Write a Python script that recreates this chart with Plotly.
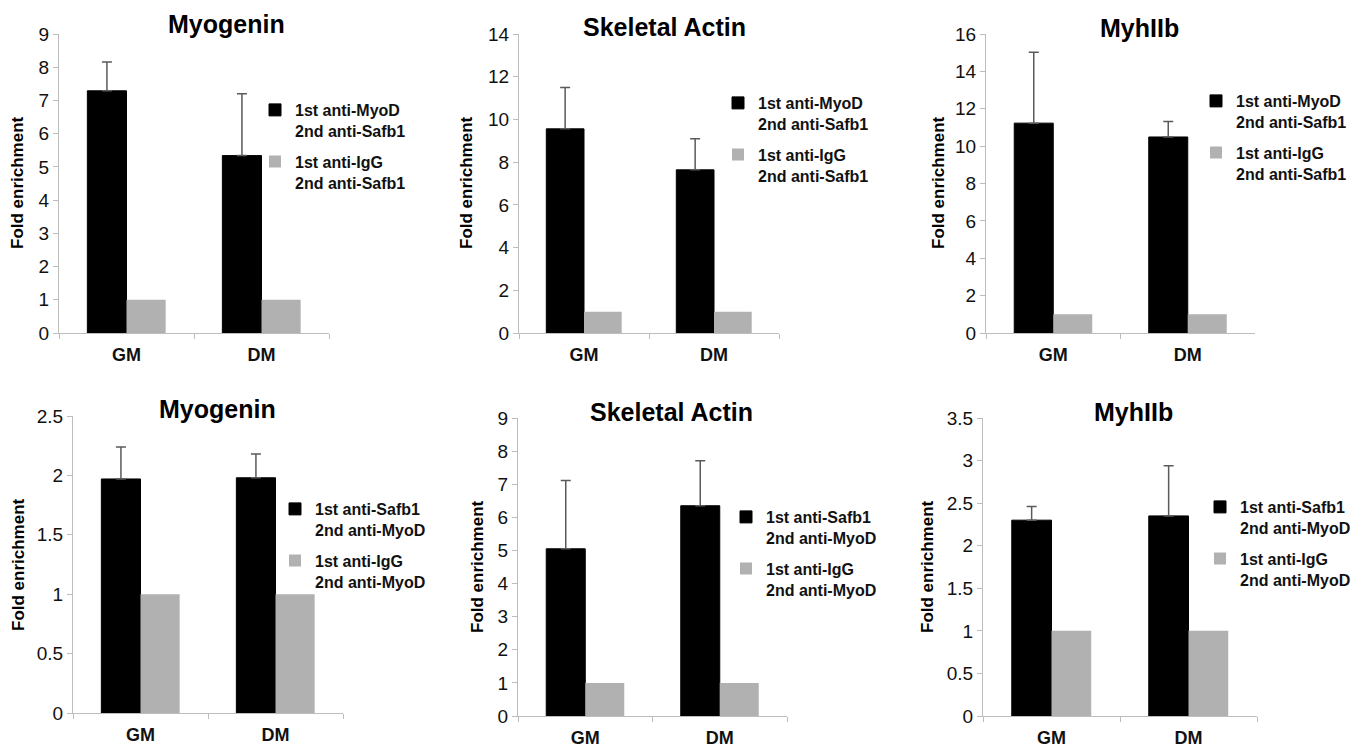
import plotly.graph_objects as go

W, H = 1363, 747

categories = ["GM", "DM"]

titles = ["Myogenin", "Skeletal Actin", "MyhIIb", "Myogenin", "Skeletal Actin", "MyhIIb"]

top_black_name = "1st anti-MyoD<br>2nd anti-Safb1"
top_gray_name = "1st anti-IgG<br>2nd anti-Safb1"
bot_black_name = "1st anti-Safb1<br>2nd anti-MyoD"
bot_gray_name = "1st anti-IgG<br>2nd anti-MyoD"

# values per panel
myogenin_top_black = [7.29, 5.34]
myogenin_top_err = [0.87, 1.86]
myogenin_top_gray = [1.0, 1.0]

actin_top_black = [9.56, 7.64]
actin_top_err = [1.94, 1.45]
actin_top_gray = [1.0, 1.0]

myh_top_black = [11.23, 10.49]
myh_top_err = [3.79, 0.83]
myh_top_gray = [1.0, 1.0]

myogenin_bot_black = [1.97, 1.98]
myogenin_bot_err = [0.27, 0.20]
myogenin_bot_gray = [1.0, 1.0]

actin_bot_black = [5.05, 6.35]
actin_bot_err = [2.06, 1.36]
actin_bot_gray = [1.0, 1.0]

myh_bot_black = [2.30, 2.35]
myh_bot_err = [0.16, 0.59]
myh_bot_gray = [1.0, 1.0]

y_max = [9, 14, 16, 2.5, 9, 3.5]
y_dtick = [1, 2, 2, 0.5, 1, 0.5]

panels = [
    (myogenin_top_black, myogenin_top_err, myogenin_top_gray, top_black_name, top_gray_name),
    (actin_top_black, actin_top_err, actin_top_gray, top_black_name, top_gray_name),
    (myh_top_black, myh_top_err, myh_top_gray, top_black_name, top_gray_name),
    (myogenin_bot_black, myogenin_bot_err, myogenin_bot_gray, bot_black_name, bot_gray_name),
    (actin_bot_black, actin_bot_err, actin_bot_gray, bot_black_name, bot_gray_name),
    (myh_bot_black, myh_bot_err, myh_bot_gray, bot_black_name, bot_gray_name),
]

# ---- layout geometry (page pixels) ----
plot_boxes = [  # x0, x1, ytop, ybottom
    (59, 329, 34, 333),
    (519, 779, 34, 333),
    (986, 1255, 34, 333),
    (73, 343, 416, 713),
    (518, 787, 418, 716),
    (983, 1257, 418, 716),
]
title_pos = [(226, 24), (664, 27), (1139, 28), (217, 409), (671, 412), (1133, 412)]
ytitle_pos = [(18, 183), (467, 183), (939, 183), (18, 565), (477, 567), (927, 567)]
legend_pos = [(295, 109), (758, 102), (1236, 100), (315, 508), (766, 516), (1240, 506)]

FONT = "Liberation Sans, Arial, Helvetica, sans-serif"
AXIS_COL = "#bdbdbd"


def px_x(x):
    return x / W


def px_y(y):
    return 1 - y / H


fig = go.Figure()
layout = dict(
    width=W, height=H, margin=dict(l=0, r=0, t=0, b=0, autoexpand=False),
    paper_bgcolor="white", plot_bgcolor="white",
    barmode="group", bargap=0.42, bargroupgap=0,
    font=dict(family=FONT, color="#111"),
    annotations=[], showlegend=True,
)

for i, (blk, err, gry, nb, ng) in enumerate(panels):
    k = "" if i == 0 else str(i + 1)
    xa, ya, lg = "x" + k, "y" + k, "legend" + k
    fig.add_trace(go.Bar(
        x=categories, y=blk, name=nb, xaxis=xa, yaxis=ya, legend=lg,
        legendgroup="b" + k,
        marker=dict(color="#000000", line=dict(color="#000000", width=1)),
        error_y=dict(type="data", array=err, arrayminus=[0] * len(err), symmetric=False,
                     color="#5a5a5a", thickness=1.5, width=5),
    ))
    fig.add_trace(go.Bar(
        x=categories, y=gry, name=ng, xaxis=xa, yaxis=ya, legend=lg,
        legendgroup="g" + k,
        marker=dict(color="#b1b1b1", line=dict(width=0)),
    ))
    x0, x1, yt, yb = plot_boxes[i]
    layout["xaxis" + k] = dict(
        domain=[px_x(x0), px_x(x1)], anchor=ya, type="category", automargin=False,
        showline=True, linecolor=AXIS_COL, linewidth=1,
        ticks="outside", tickson="boundaries", ticklen=5, tickcolor=AXIS_COL,
        tickvals=categories, ticktext=categories, ticklabelstandoff=5,
        tickfont=dict(family=FONT, size=18, weight="bold", color="#111"),
        showgrid=False, zeroline=False, fixedrange=True,
    )
    layout["yaxis" + k] = dict(
        domain=[px_y(yb), px_y(yt)], anchor=xa, automargin=False,
        range=[0, y_max[i]], dtick=y_dtick[i], tick0=0,
        showline=True, linecolor=AXIS_COL, linewidth=1,
        ticks="outside", ticklen=5, tickcolor=AXIS_COL,
        tickfont=dict(family=FONT, size=19, color="#111"),
        showgrid=False, zeroline=False, fixedrange=True,
    )
    lx, ly = legend_pos[i]
    layout[lg] = dict(
        x=px_x(lx - 40), y=px_y(ly - 16), xanchor="left", yanchor="top",
        bgcolor="rgba(0,0,0,0)", borderwidth=0, valign="top",
        tracegroupgap=7, itemclick=False, itemdoubleclick=False,
        font=dict(family=FONT, size=16, weight="bold", color="#111"),
    )
    tx, ty = title_pos[i]
    layout["annotations"].append(dict(
        text=titles[i], x=px_x(tx), y=px_y(ty), xref="paper", yref="paper",
        xanchor="center", yanchor="middle", showarrow=False,
        font=dict(family=FONT, size=25, weight="bold", color="#000"),
    ))
    yx, yy = ytitle_pos[i]
    layout["annotations"].append(dict(
        text="Fold enrichment", x=px_x(yx), y=px_y(yy), xref="paper", yref="paper",
        xanchor="center", yanchor="middle", showarrow=False, textangle=-90,
        font=dict(family=FONT, size=17, weight="bold", color="#000"),
    ))

fig.update_layout(**layout)
# remove the browser's default 8px body margin so the figure fills the window exactly
fig.write_html(
    "out.html",
    config={"displayModeBar": False},
    post_script="document.body.style.margin='0px';document.documentElement.style.overflow='hidden';",
)
